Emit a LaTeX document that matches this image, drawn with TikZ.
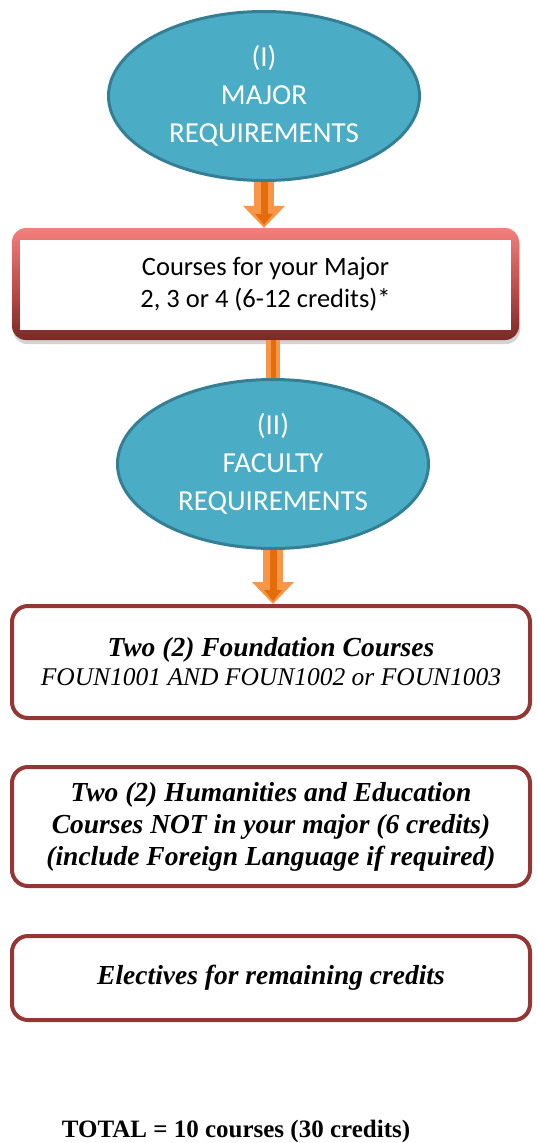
\documentclass[tikz,border=0pt]{standalone}
\usepackage{fontspec}
\setmainfont{Liberation Serif}
\newfontfamily\calib{Carlito}
\usetikzlibrary{shapes.geometric,arrows.meta,shadows}
\definecolor{reqblue}{HTML}{4BACC6}
\definecolor{reqline}{HTML}{357F94}
\definecolor{arrlight}{HTML}{F79646}
\definecolor{arrdark}{HTML}{E46C0A}
\definecolor{boxred}{HTML}{943634}
\definecolor{majtop}{HTML}{F47F7D}
\definecolor{majmid}{HTML}{C0504D}
\definecolor{majbot}{HTML}{7A2927}

\begin{document}
\begin{tikzpicture}[x=1pt,y=-1pt,
  req node/.style={ellipse,draw=reqline,line width=3pt,fill=reqblue,text=white,
    minimum width=311pt,minimum height=169pt,inner sep=0pt,align=center,
    font=\calib\fontsize{29}{38}\selectfont},
  major box/.style={rectangle,rounded corners=14pt,top color=majtop,bottom color=majbot,
    middle color=majmid,minimum width=507pt,minimum height=112pt,align=center,
    font=\calib\fontsize{26.5}{32}\selectfont,
    drop shadow={shadow xshift=1pt,shadow yshift=-4pt,opacity=.35},
    path picture={\fill[white,sharp corners]
      ([xshift=8pt,yshift=-12pt]path picture bounding box.north west) rectangle
      ([xshift=-8pt,yshift=10pt]path picture bounding box.south east);}},
  course box/.style={rectangle,rounded corners=16pt,draw=boxred,line width=4pt,fill=white,
    minimum width=518pt,align=center,font=\fontsize{27.5}{32}\selectfont\bfseries\itshape},
  fat arrow/.style={draw=arrlight,line width=20pt,
    -{Triangle[width=42pt,length=22pt,line width=0pt]}},
  fat stripe/.style={draw=arrdark,line width=7pt,shorten >=3pt,
    -{Triangle[width=18pt,length=11pt,line width=0pt]}},
  shaft/.style={draw=arrlight,line width=14pt},
  shaft stripe/.style={draw=arrdark,line width=5pt}]

  \useasboundingbox (0,0) rectangle (536,1143);

  \node[req node] (maj) at (264,96) {(I)\\MAJOR\\REQUIREMENTS};
  \node[major box] (majbox) at (265.5,284) {Courses for your Major\\2, 3 or 4 (6-12 credits)*};
  \node[req node] (fac) at (273,464) {(II)\\FACULTY\\REQUIREMENTS};

  \node[course box,minimum height=112pt] (found) at (271,662)
    {Two (2) Foundation Courses\\[-3pt]{\mdseries\fontsize{25.5}{30}\selectfont FOUN1001 AND FOUN1002 or FOUN1003}};
  \node[course box,minimum height=119pt] (hum) at (271,826.5)
    {Two (2) Humanities and Education\\Courses NOT in your major (6 credits)\\(include Foreign Language if required)};
  \node[course box,minimum height=84pt] (elec) at (271,978) {Electives for remaining credits};

  \node[font=\fontsize{25}{30}\selectfont\bfseries] (total) at (236,1131) {TOTAL = 10 courses (30 credits)};

  % arrows between the steps
  \draw[fat arrow] (maj.south) -- (maj.south |- majbox.north);
  \draw[fat stripe] (maj.south) -- (maj.south |- majbox.north);
  \draw[shaft] (fac.north |- majbox.south) -- (fac.north);
  \draw[shaft stripe] (fac.north |- majbox.south) -- (fac.north);
  \draw[fat arrow] (fac.south) -- (fac.south |- found.north);
  \draw[fat stripe] (fac.south) -- (fac.south |- found.north);
\end{tikzpicture}
\end{document}
